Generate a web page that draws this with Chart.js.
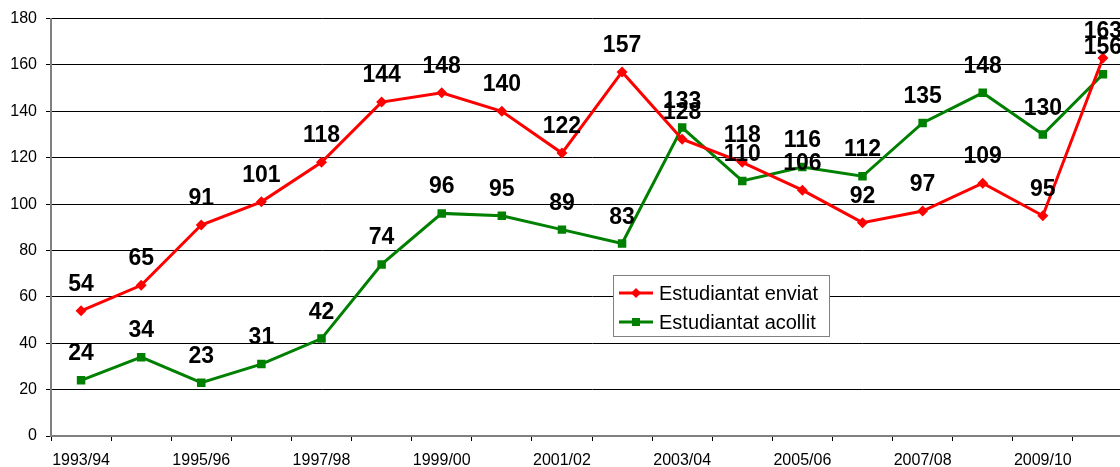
<!DOCTYPE html>
<html>
<head>
<meta charset="utf-8">
<script src="https://cdn.jsdelivr.net/npm/chart.js@4/dist/chart.umd.min.js"></script>
<style>
html,body{margin:0;padding:0;background:#fff;overflow:hidden;width:1120px;height:467px;}
canvas{display:block;}
</style>
</head>
<body>
<canvas id="c" width="1140" height="467" style="width:1140px;height:467px"></canvas>
<script>
const categories = ["1993/94","1994/95","1995/96","1996/97","1997/98","1998/99","1999/00","2000/01","2001/02","2002/03","2003/04","2004/05","2005/06","2006/07","2007/08","2008/09","2009/10","2010/11"];
const enviat = [54,65,91,101,118,144,148,140,122,157,128,118,106,92,97,109,95,163];
const acollit = [24,34,23,31,42,74,96,95,89,83,133,110,116,112,135,148,130,156];
const seriesNames = ["Estudiantat enviat","Estudiantat acollit"];
const yTicks = [0,20,40,60,80,100,120,140,160,180];

const FONT = '"Liberation Sans", Arial, sans-serif';

const labelPlugin = {
  id: 'valueLabels',
  afterDatasetsDraw(chart) {
    const ctx = chart.ctx;
    ctx.save();
    ctx.font = 'bold 23px ' + FONT;
    ctx.fillStyle = '#000';
    ctx.textAlign = 'center';
    ctx.textBaseline = 'alphabetic';
    chart.data.datasets.forEach((ds, di) => {
      const meta = chart.getDatasetMeta(di);
      meta.data.forEach((pt, i) => {
        ctx.fillText(String(ds.data[i]), pt.x, pt.y - 20);
      });
    });
    ctx.restore();
  }
};

const legendPlugin = {
  id: 'boxLegend',
  afterDraw(chart) {
    const ctx = chart.ctx;
    ctx.save();
    const x0 = 613, y0 = 275, w = 216, h = 61;
    ctx.fillStyle = '#fff';
    ctx.fillRect(x0, y0, w, h);
    ctx.strokeStyle = '#808080';
    ctx.lineWidth = 1;
    ctx.strokeRect(x0 + 0.5, y0 + 0.5, w, h);
    const items = [
      {name: seriesNames[0], color: '#ff0000', style: 'diamond', y: 293},
      {name: seriesNames[1], color: '#008000', style: 'square', y: 322}
    ];
    ctx.font = '20px ' + FONT;
    ctx.textBaseline = 'middle';
    ctx.textAlign = 'left';
    items.forEach(it => {
      ctx.strokeStyle = it.color;
      ctx.lineWidth = 3;
      ctx.beginPath();
      ctx.moveTo(619, it.y);
      ctx.lineTo(653, it.y);
      ctx.stroke();
      ctx.fillStyle = it.color;
      ctx.beginPath();
      if (it.style === 'diamond') {
        ctx.moveTo(636, it.y - 5);
        ctx.lineTo(641, it.y);
        ctx.lineTo(636, it.y + 5);
        ctx.lineTo(631, it.y);
        ctx.closePath();
      } else {
        ctx.rect(632, it.y - 4, 8, 8);
      }
      ctx.fill();
      ctx.fillStyle = '#000';
      ctx.fillText(it.name, 659, it.y + 1);
    });
    ctx.restore();
  }
};

new Chart(document.getElementById('c'), {
  type: 'line',
  data: {
    labels: categories,
    datasets: [
      {
        label: seriesNames[0],
        data: enviat,
        borderColor: '#ff0000',
        backgroundColor: '#ff0000',
        borderWidth: 3,
        pointStyle: 'rectRot',
        pointRadius: 5.5,
        pointBorderWidth: 0,
        tension: 0,
        fill: false
      },
      {
        label: seriesNames[1],
        data: acollit,
        borderColor: '#008000',
        backgroundColor: '#008000',
        borderWidth: 3,
        pointStyle: 'rect',
        pointRadius: 6,
        pointBorderWidth: 0,
        tension: 0,
        fill: false
      }
    ]
  },
  options: {
    responsive: false,
    animation: false,
    layout: {padding: {top: 18, right: 7, left: 0, bottom: 0}},
    plugins: {
      legend: {display: false},
      tooltip: {enabled: false}
    },
    scales: {
      x: {
        type: 'category',
        offset: true,
        grid: {offset: true, drawOnChartArea: false, drawTicks: true, tickLength: 5, color: '#000'},
        border: {color: '#808080', width: 2},
        ticks: {
          autoSkip: false,
          maxRotation: 0,
          minRotation: 0,
          padding: 10,
          color: '#000',
          font: {family: FONT, size: 16},
          callback: function(v, i) { return i % 2 === 0 ? categories[i] : ''; }
        },
        afterFit(scale) { scale.height = 31; }
      },
      y: {
        min: 0,
        max: 180,
        afterBuildTicks(scale) { scale.ticks = yTicks.map(v => ({value: v})); },
        grid: {color: '#000', lineWidth: 1, drawTicks: true, tickLength: 5},
        border: {color: '#808080', width: 2},
        ticks: {
          padding: 9,
          color: '#000',
          font: {family: FONT, size: 16}
        },
        afterFit(scale) { scale.width = 51; }
      }
    }
  },
  plugins: [labelPlugin, legendPlugin]
});
</script>
</body>
</html>
